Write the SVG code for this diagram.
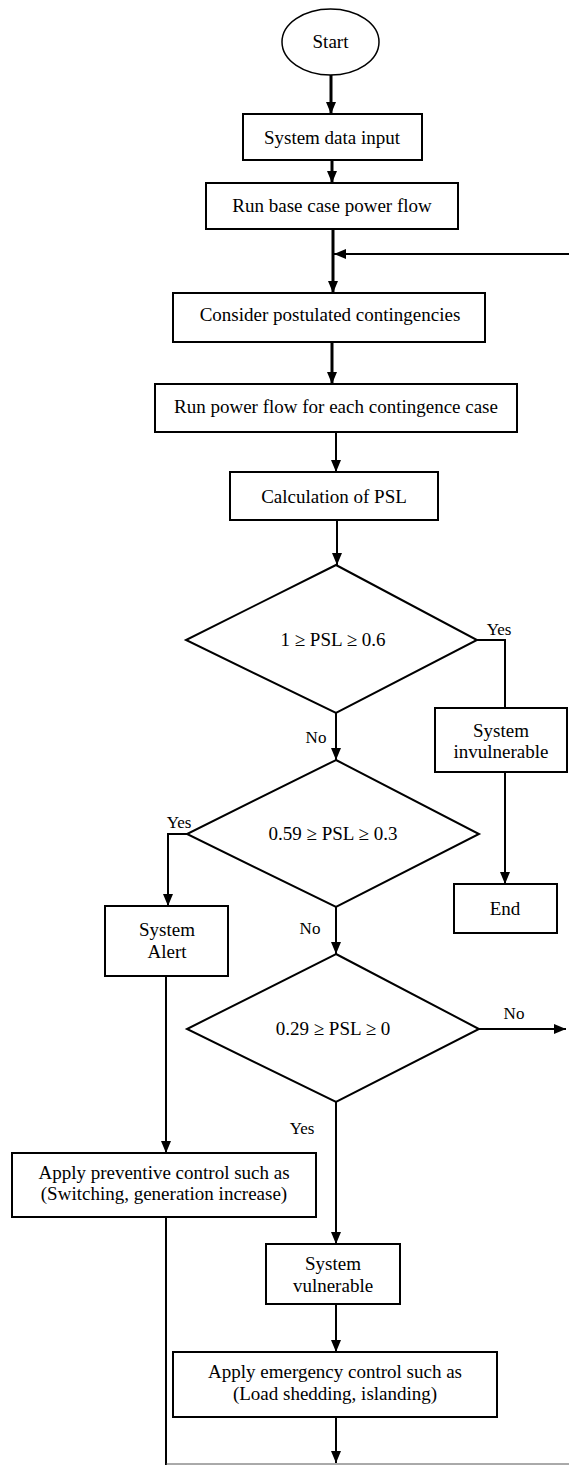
<svg xmlns="http://www.w3.org/2000/svg" width="569" height="1465" viewBox="0 0 569 1465">
<defs>
<style>
.box{fill:#fff;stroke:#000;stroke-width:2}
.t{font-family:"Liberation Serif","Times New Roman",serif;font-size:19px;fill:#000;text-anchor:middle}
.lb{font-family:"Liberation Serif","Times New Roman",serif;font-size:17px;fill:#000;text-anchor:middle}
.c{fill:none;stroke:#000;stroke-width:2}
.ct{fill:none;stroke:#000;stroke-width:3}
</style>
<marker id="ah" markerUnits="userSpaceOnUse" markerWidth="12" markerHeight="12" viewBox="0 0 12 10" refX="12" refY="5" orient="auto">
<path d="M0,0 L12,5 L0,10 z" fill="#000"/>
</marker>
</defs>
<rect width="569" height="1465" fill="#fff"/>
<g id="connectors">
<line class="ct" x1="331" y1="75" x2="331" y2="114" marker-end="url(#ah)"/>
<line class="ct" x1="332" y1="160" x2="332" y2="183" marker-end="url(#ah)"/>
<line class="ct" x1="333" y1="229" x2="333" y2="293" marker-end="url(#ah)"/>
<line class="c" x1="569" y1="254" x2="334" y2="254" marker-end="url(#ah)"/>
<line class="ct" x1="332" y1="342" x2="332" y2="384" marker-end="url(#ah)"/>
<line class="c" x1="336" y1="432" x2="336" y2="472" marker-end="url(#ah)"/>
<line class="c" x1="337" y1="520" x2="337" y2="565" marker-end="url(#ah)"/>
<polyline class="c" points="477,640 505,640 505,708"/>
<line class="c" x1="336" y1="713" x2="336" y2="760" marker-end="url(#ah)"/>
<line class="c" x1="505" y1="772" x2="505" y2="884" marker-end="url(#ah)"/>
<polyline class="c" points="187,834 168,834 168,906" marker-end="url(#ah)"/>
<line class="c" x1="336" y1="907" x2="336" y2="954" marker-end="url(#ah)"/>
<line class="c" x1="166" y1="976" x2="166" y2="1153" marker-end="url(#ah)"/>
<line class="c" x1="479" y1="1029" x2="566" y2="1029" marker-end="url(#ah)"/>
<line class="c" x1="336" y1="1102" x2="336" y2="1244" marker-end="url(#ah)"/>
<line class="c" x1="336" y1="1304" x2="336" y2="1352" marker-end="url(#ah)"/>
<line class="c" x1="336" y1="1417" x2="336" y2="1463" marker-end="url(#ah)"/>
<line class="c" x1="166" y1="1217" x2="166" y2="1465"/>
<line x1="166" y1="1464" x2="569" y2="1464" stroke="#555" stroke-width="1"/>
</g>
<g id="start">
<ellipse cx="330.5" cy="42" rx="48.5" ry="33" fill="#fff" stroke="#000" stroke-width="1.5"/>
<text class="t" x="330.5" y="48">Start</text>
</g>
<g id="system-data-input">
<rect class="box" x="243" y="114" width="179" height="46"/>
<text class="t" x="332" y="144">System data input</text>
</g>
<g id="run-base-case">
<rect class="box" x="206" y="183" width="252" height="46"/>
<text class="t" x="332" y="212">Run base case power flow</text>
</g>
<g id="consider-contingencies">
<rect class="box" x="173" y="293" width="312" height="49"/>
<text class="t" x="330" y="321">Consider postulated contingencies</text>
</g>
<g id="run-power-flow-each">
<rect class="box" x="155" y="384" width="362" height="48"/>
<text class="t" x="336" y="413">Run power flow for each contingence case</text>
</g>
<g id="calc-psl">
<rect class="box" x="230" y="472" width="208" height="48"/>
<text class="t" x="334" y="503">Calculation of PSL</text>
</g>
<g id="decision-1">
<polygon class="box" points="336,565 477,640 336,713 186,640"/>
<text class="t" x="333" y="646">1 ≥ PSL ≥ 0.6</text>
</g>
<g id="system-invulnerable">
<rect class="box" x="435" y="708" width="132" height="64"/>
<text class="t" x="501" y="737">System</text>
<text class="t" x="501" y="758">invulnerable</text>
</g>
<g id="end">
<rect class="box" x="454" y="884" width="103" height="49"/>
<text class="t" x="505" y="915">End</text>
</g>
<g id="decision-2">
<polygon class="box" points="336,760 479,834 336,907 187,834"/>
<text class="t" x="333" y="840">0.59 ≥ PSL ≥ 0.3</text>
</g>
<g id="system-alert">
<rect class="box" x="105" y="906" width="123" height="70"/>
<text class="t" x="167" y="936">System</text>
<text class="t" x="167" y="958">Alert</text>
</g>
<g id="decision-3">
<polygon class="box" points="336,954 479,1029 336,1102 187,1029"/>
<text class="t" x="333" y="1035">0.29 ≥ PSL ≥ 0</text>
</g>
<g id="preventive-control">
<rect class="box" x="12" y="1153" width="304" height="64"/>
<text class="t" x="164" y="1179">Apply preventive control such as</text>
<text class="t" x="164" y="1200">(Switching, generation increase)</text>
</g>
<g id="system-vulnerable">
<rect class="box" x="266" y="1244" width="134" height="60"/>
<text class="t" x="333" y="1270">System</text>
<text class="t" x="333" y="1292">vulnerable</text>
</g>
<g id="emergency-control">
<rect class="box" x="173" y="1352" width="324" height="65"/>
<text class="t" x="335" y="1378">Apply emergency control such as</text>
<text class="t" x="335" y="1400">(Load shedding, islanding)</text>
</g>
<g id="labels">
<text class="lb" x="499" y="635">Yes</text>
<text class="lb" x="316" y="743">No</text>
<text class="lb" x="179" y="828">Yes</text>
<text class="lb" x="310" y="934">No</text>
<text class="lb" x="514" y="1019">No</text>
<text class="lb" x="302" y="1134">Yes</text>
</g>
</svg>
